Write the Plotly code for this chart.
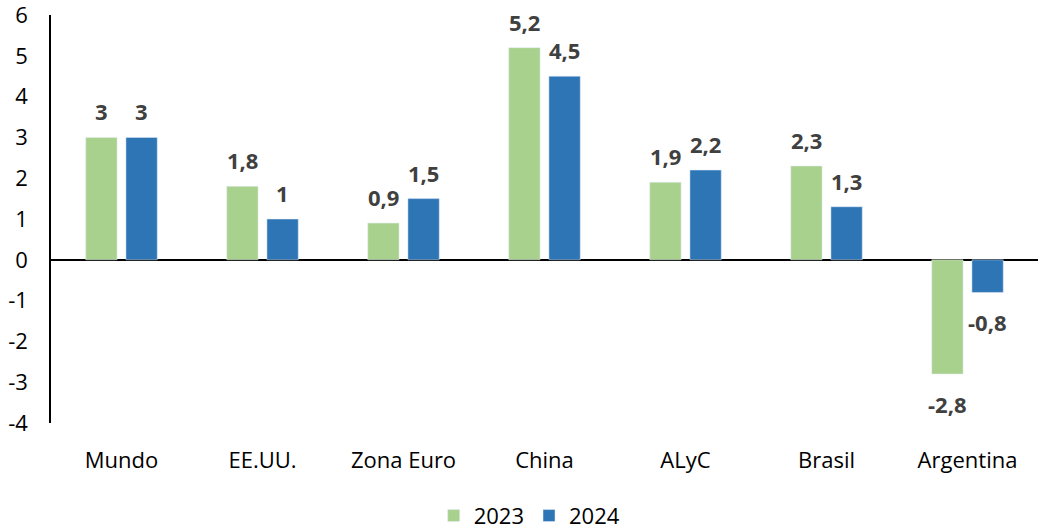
import plotly.graph_objects as go

# Growth by region (%), 2023 vs 2024
regions = ["Mundo", "EE.UU.", "Zona Euro", "China", "ALyC", "Brasil", "Argentina"]
growth_2023 = [3, 1.8, 0.9, 5.2, 1.9, 2.3, -2.8]
growth_2024 = [3, 1.0, 1.5, 4.5, 2.2, 1.3, -0.8]
y_ticks = [-4, -3, -2, -1, 0, 1, 2, 3, 4, 5, 6]

FONT = "'Open Sans', 'Noto Sans', sans-serif"
GREEN = "#A9D18E"
BLUE = "#2E75B6"


def fmt(v):
    return f"{v:g}".replace(".", ",")


fig = go.Figure()
fig.add_trace(go.Bar(name="2023", x=regions, y=growth_2023, marker_color=GREEN))
fig.add_trace(go.Bar(name="2024", x=regions, y=growth_2024, marker_color=BLUE))

# value labels above (or below) each bar
annotations = []
for vals, dx in ((growth_2023, -20), (growth_2024, 20)):
    for cat, v in zip(regions, vals):
        annotations.append(dict(
            x=cat, y=v, xref="x", yref="y", text=fmt(v), showarrow=False,
            xshift=dx, yshift=26 if v >= 0 else -30,
            font=dict(family=FONT, size=22, color="#404040", weight="bold"),
        ))

fig.update_layout(
    width=1038, height=529,
    margin=dict(l=51, r=0, t=15, b=106, autoexpand=False),
    paper_bgcolor="white", plot_bgcolor="white",
    barmode="group", bargap=0.43, bargroupgap=0.22,
    font=dict(family=FONT, size=22, color="black"),
    annotations=annotations,
    showlegend=True,
    legend=dict(orientation="h", x=0.485, xanchor="center",
                yref="container", y=0.025, yanchor="middle",
                font=dict(size=22), itemwidth=30, traceorder="normal"),
    xaxis=dict(showline=False, showgrid=False, ticks="outside", ticklen=18,
               tickcolor="rgba(0,0,0,0)", tickfont=dict(size=22), automargin=False),
    yaxis=dict(range=[-4, 6], tickvals=y_ticks, ticktext=[str(t) for t in y_ticks],
               showgrid=False, showline=True, linecolor="black", linewidth=1.5,
               zeroline=True, zerolinecolor="black", zerolinewidth=2,
               ticks="outside", ticklen=17, tickcolor="rgba(0,0,0,0)",
               tickfont=dict(size=22), automargin=False, ticklabeloverflow="allow"),
)

fig.write_html("out.html")
